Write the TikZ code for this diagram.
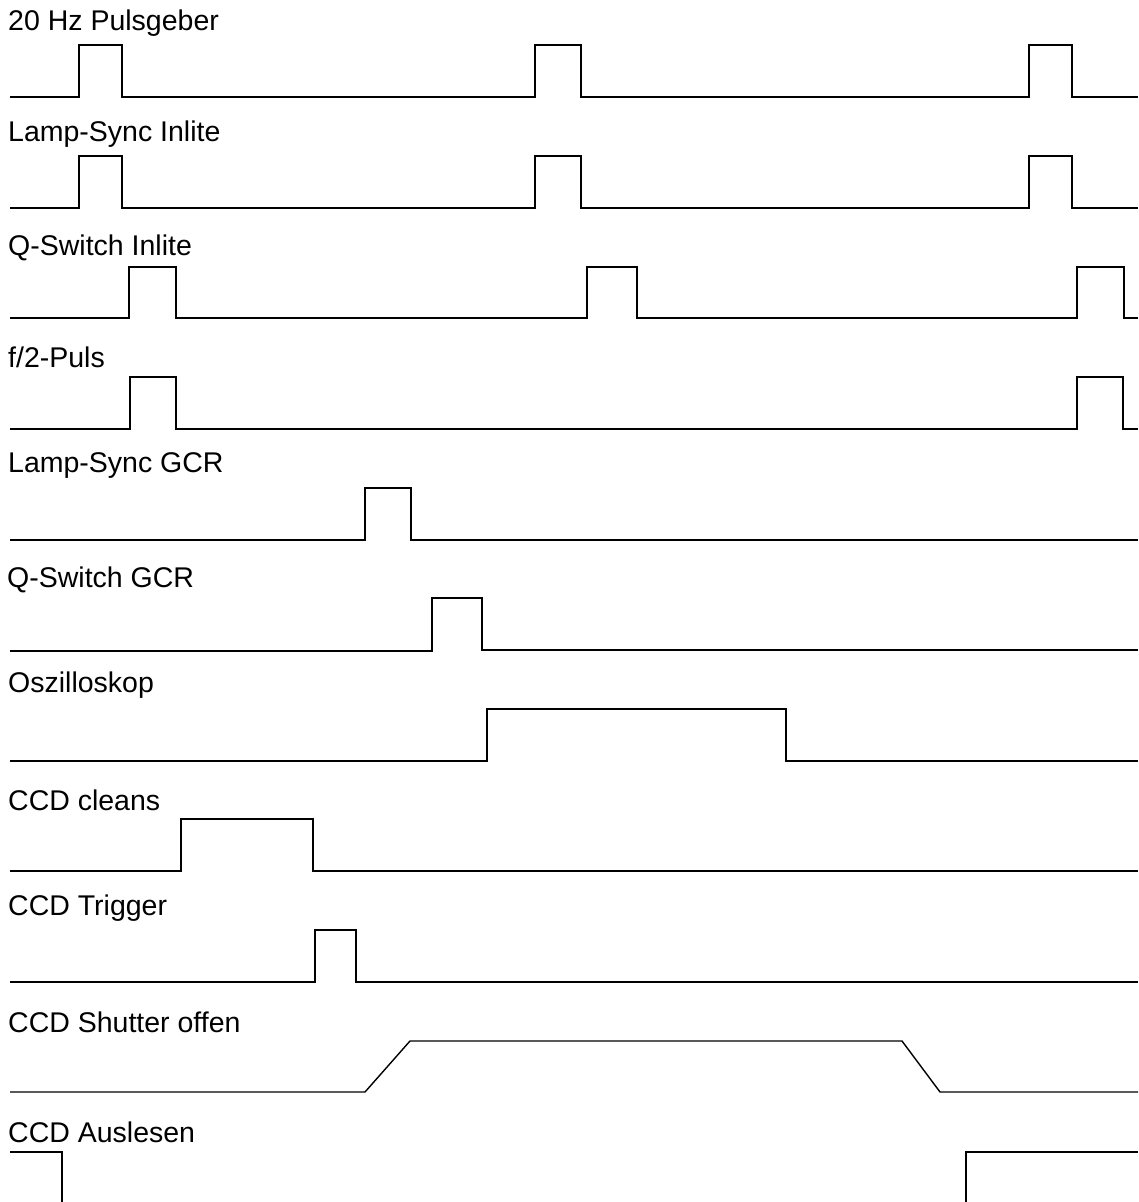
\documentclass[tikz,border=0pt]{standalone}
\usepackage{fontspec}
\setmainfont{Liberation Sans}
\begin{document}
\begin{tikzpicture}[x=1pt,y=-1pt,
  sig/.style={line width=1.4pt, line join=miter},
  lbl/.style={anchor=base west, inner sep=0pt, font=\fontsize{28.5}{34}\selectfont}]
\useasboundingbox (0,0) rectangle (1139,1202);
% labels
\node[lbl] (l1) at (8,30) {20 Hz Pulsgeber};
\node[lbl] (l2) at (8,141) {Lamp-Sync Inlite};
\node[lbl] (l3) at (8,255) {Q-Switch Inlite};
\node[lbl] (l4) at (8,367) {f/2-Puls};
\node[lbl] (l5) at (8,472) {Lamp-Sync GCR};
\node[lbl] (l6) at (7,587) {Q-Switch GCR};
\node[lbl] (l7) at (8,692) {Oszilloskop};
\node[lbl] (l8) at (8,810) {CCD cleans};
\node[lbl] (l9) at (8,915) {CCD Trigger};
\node[lbl] (l10) at (8,1032) {CCD Shutter offen};
\node[lbl] (l11) at (8,1142) {CCD Auslesen};
% signals
\draw[sig] (10,97) -- (79,97) -- (79,45) -- (122,45) -- (122,97) -- (535,97) -- (535,45) -- (581,45) -- (581,97) -- (1029,97) -- (1029,45) -- (1072,45) -- (1072,97) -- (1138,97);
\draw[sig] (10,208) -- (79,208) -- (79,156) -- (122,156) -- (122,208) -- (535,208) -- (535,156) -- (581,156) -- (581,208) -- (1029,208) -- (1029,156) -- (1072,156) -- (1072,208) -- (1138,208);
\draw[sig] (10,318) -- (129,318) -- (129,267) -- (176,267) -- (176,318) -- (587,318) -- (587,267) -- (637,267) -- (637,318) -- (1077,318) -- (1077,267) -- (1124,267) -- (1124,318) -- (1138,318);
\draw[sig] (10,429) -- (130,429) -- (130,377) -- (176,377) -- (176,429) -- (1077,429) -- (1077,377) -- (1123,377) -- (1123,429) -- (1138,429);
\draw[sig] (10,540) -- (365,540) -- (365,488) -- (411,488) -- (411,540) -- (1138,540);
\draw[sig] (10,651) -- (432,651) -- (432,598) -- (482,598) -- (482,650) -- (1138,650);
\draw[sig] (10,761) -- (487,761) -- (487,709) -- (786,709) -- (786,761) -- (1138,761);
\draw[sig] (10,871) -- (181,871) -- (181,819) -- (313,819) -- (313,871) -- (1138,871);
\draw[sig] (10,982) -- (315,982) -- (315,930) -- (356,930) -- (356,982) -- (1138,982);
\draw[sig] (10,1092) -- (365,1092) -- (410,1041) -- (902,1041) -- (940,1092) -- (1138,1092);
\draw[sig] (10,1152) -- (62,1152) -- (62,1202);
\draw[sig] (966,1202) -- (966,1152) -- (1138,1152);
\end{tikzpicture}
\end{document}
